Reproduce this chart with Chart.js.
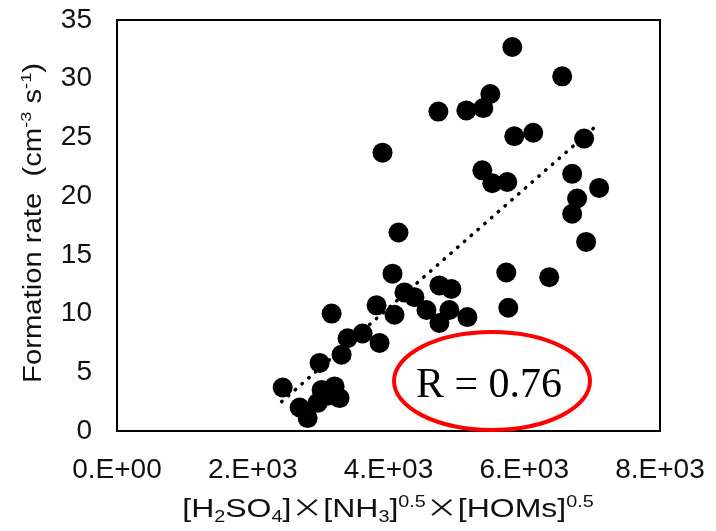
<!DOCTYPE html>
<html>
<head>
<meta charset="utf-8">
<script src="https://cdn.jsdelivr.net/npm/chart.js@4.4.1/dist/chart.umd.min.js"></script>
<style>
html, body { margin: 0; padding: 0; background: #fff; }
</style>
</head>
<body>
<canvas id="grafico" width="716" height="531"></canvas>
<script>
// Dados
const valoresX = [5824, 6559, 5500, 5147, 5397, 4735, 3912, 5853, 6132, 6882,
                  5382, 5529, 5750, 6706, 7103, 6779, 6706, 6912, 4147, 4059,
                  5735, 6368, 5765, 4235, 4382, 4750, 4926, 4559, 4897, 4750,
                  5162, 4088, 3824, 3162, 3618, 3397, 3868, 3309, 2985, 2441,
                  2691, 2809, 2956, 3015, 3206, 3279, 3103];
const valoresY = [32.7, 30.2, 28.7, 27.3, 27.5, 27.2, 23.7, 25.1, 25.4, 24.9,
                  22.2, 21.1, 21.2, 21.9, 20.7, 19.8, 18.5, 16.1, 16.9, 13.4,
                  13.5, 13.1, 10.5, 11.8, 11.4, 12.4, 12.1, 10.3, 10.3, 9.2,
                  9.7, 9.9, 10.7, 10.0, 8.3, 7.9, 7.5, 6.5, 5.8, 3.7,
                  2.0, 1.1, 2.4, 3.5, 3.8, 2.8, 3.0];
const tendenciaX = [2426, 7103];
const tendenciaY = [2.5, 26.2];
const ticksX = [0, 2000, 4000, 6000, 8000];
const ticksY = [0, 5, 10, 15, 20, 25, 30, 35];
const textoR = 'R = 0.76';

const FONTE = "'Liberation Sans', Arial, sans-serif";

// formato tipo Excel: 2.E+03
function formatoCientifico(v) {
    if (v === 0) return '0.E+00';
    const exp = Math.floor(Math.log10(Math.abs(v)));
    const man = Math.round(v / Math.pow(10, exp));
    return man + '.E+' + String(exp).padStart(2, '0');
}

// desenha texto com subscritos / sobrescritos, centrado em (0,0)
function desenharRico(ctx, partes, tam, escalaX) {
    let total = 0;
    partes.forEach(p => {
        const t = p.tipo === 'n' || p.tipo === 'x' ? tam : tam * 0.62;
        const fam = p.tipo === 'x' ? "'Noto Sans CJK JP', sans-serif" : FONTE;
        p.fonte = t + 'px ' + fam;
        ctx.font = p.fonte;
        p.w = ctx.measureText(p.t).width;
        total += p.w;
    });
    ctx.scale(escalaX, 1);
    let cx = -total / 2;
    ctx.textBaseline = 'alphabetic';
    ctx.textAlign = 'left';
    partes.forEach(p => {
        let dy = tam * 0.35;
        if (p.tipo === 'sub') dy += tam * 0.2;
        if (p.tipo === 'sup') dy -= tam * 0.38;
        ctx.font = p.fonte;
        ctx.fillText(p.t, cx, dy);
        cx += p.w;
    });
}

const extras = {
    id: 'extras',
    beforeDatasetsDraw(chart) {
        const { ctx, chartArea: a } = chart;
        ctx.save();
        ctx.strokeStyle = '#000';
        ctx.lineWidth = 2;
        ctx.strokeRect(a.left, a.top, a.right - a.left, a.bottom - a.top);
        ctx.restore();
    },
    afterDraw(chart) {
        const { ctx } = chart;
        ctx.save();
        ctx.fillStyle = '#111';

        // título do eixo X
        ctx.save();
        ctx.translate(388, 508);
        desenharRico(ctx, [
            { t: '[H', tipo: 'n' }, { t: '2', tipo: 'sub' }, { t: 'SO', tipo: 'n' },
            { t: '4', tipo: 'sub' }, { t: ']', tipo: 'n' }, { t: '×', tipo: 'x' },
            { t: '[NH', tipo: 'n' }, { t: '3', tipo: 'sub' }, { t: ']', tipo: 'n' },
            { t: '0.5', tipo: 'sup' }, { t: '×', tipo: 'x' }, { t: '[HOMs]', tipo: 'n' },
            { t: '0.5', tipo: 'sup' }
        ], 26, 1.23);
        ctx.restore();

        // título do eixo Y
        ctx.save();
        ctx.translate(32, 223);
        ctx.rotate(-Math.PI / 2);
        desenharRico(ctx, [
            { t: 'Formation rate  (cm', tipo: 'n' }, { t: '-3', tipo: 'sup' },
            { t: ' s', tipo: 'n' }, { t: '-1', tipo: 'sup' }, { t: ')', tipo: 'n' }
        ], 25, 1.17);
        ctx.restore();

        // elipse vermelha com R
        ctx.beginPath();
        ctx.ellipse(492, 381, 98, 49, 0, 0, Math.PI * 2);
        ctx.strokeStyle = '#f00';
        ctx.lineWidth = 4;
        ctx.stroke();
        ctx.fillStyle = '#000';
        ctx.font = "42px 'Liberation Serif', 'Times New Roman', serif";
        ctx.textAlign = 'center';
        ctx.textBaseline = 'alphabetic';
        ctx.fillText(textoR, 489, 397);
        ctx.restore();
    }
};

new Chart(document.getElementById('grafico'), {
    type: 'scatter',
    data: {
        datasets: [
            {
                label: 'pontos',
                data: valoresX.map((x, i) => ({ x: x, y: valoresY[i] })),
                backgroundColor: '#000',
                borderColor: '#000',
                pointRadius: 10,
                pointBorderWidth: 0,
                order: 0
            },
            {
                label: 'tendência',
                data: tendenciaX.map((x, i) => ({ x: x, y: tendenciaY[i] })),
                showLine: true,
                borderColor: '#000',
                borderWidth: 3.5,
                borderDash: [0.5, 8.5],
                borderCapStyle: 'round',
                pointRadius: 0,
                order: 1
            }
        ]
    },
    options: {
        responsive: false,
        animation: false,
        layout: { autoPadding: false, padding: { top: 20, right: 56, left: 0, bottom: 0 } },
        plugins: { legend: { display: false }, tooltip: { enabled: false } },
        scales: {
            x: {
                type: 'linear',
                min: 0, max: 8000,
                afterBuildTicks: s => { s.ticks = ticksX.map(v => ({ value: v })); },
                afterFit: s => {
                    s.height = 100;
                    s.paddingLeft = 0; s.paddingRight = 0;
                },
                grid: { display: false, drawTicks: false },
                border: { display: false },
                ticks: {
                    padding: 22,
                    color: '#111',
                    font: { family: FONTE, size: 28 },
                    maxRotation: 0,
                    callback: v => formatoCientifico(v)
                }
            },
            y: {
                min: 0, max: 35,
                afterBuildTicks: s => { s.ticks = ticksY.map(v => ({ value: v })); },
                afterFit: s => {
                    s.width = 117;
                    s.paddingTop = 0; s.paddingBottom = 0;
                },
                grid: { display: false, drawTicks: false },
                border: { display: false },
                ticks: {
                    padding: 25,
                    color: '#111',
                    font: { family: FONTE, size: 28 }
                }
            }
        }
    },
    plugins: [extras]
});
</script>
</body>
</html>
